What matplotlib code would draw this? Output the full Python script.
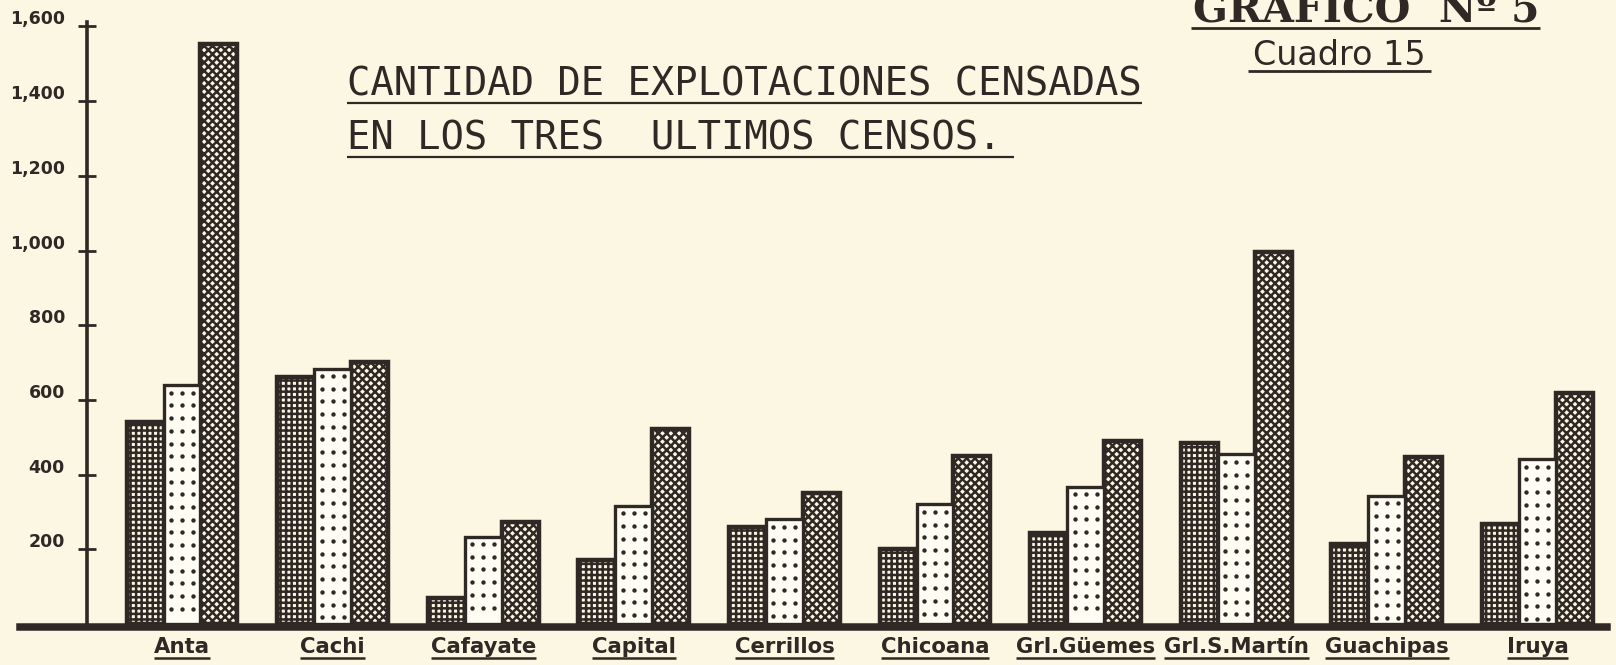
import matplotlib
matplotlib.use("Agg")
import matplotlib.pyplot as plt
from matplotlib import transforms
from matplotlib.lines import Line2D
import numpy as np

# --- data -----------------------------------------------------------------
departamentos = ["Anta", "Cachi", "Cafayate", "Capital", "Cerrillos", "Chicoana",
                 "Grl.Güemes", "Grl.S.Martín", "Guachipas", "Iruya"]
censo_1 = [542, 662, 69, 170, 259, 201, 244, 484, 213, 268]
censo_2 = [639, 684, 234, 316, 280, 320, 368, 454, 343, 441]
censo_3 = [1552, 702, 274, 521, 351, 450, 491, 995, 447, 618]
y_ticks = [200, 400, 600, 800, 1000, 1200, 1400, 1600]
y_tick_labels = ["200", "400", "600", "800", "1,000", "1,200", "1,400", "1,600"]

titulo_1 = "CANTIDAD DE EXPLOTACIONES CENSADAS"
titulo_2 = "EN LOS TRES  ULTIMOS CENSOS."
grafico = "GRAFICO  Nº 5"
cuadro = "Cuadro 15"

# --- style ----------------------------------------------------------------
PAPER = "#fbf7e3"
INK = "#2f2825"
W_PX, H_PX = 1616, 665

plt.rcParams["hatch.linewidth"] = 1.8
plt.rcParams["font.family"] = ["DejaVu Sans"]

fig = plt.figure(figsize=(W_PX / 100, H_PX / 100), dpi=100, facecolor=PAPER)
ax = fig.add_axes([0, 0, 1, 1])
ax.set_facecolor("none")
ax.set_xlim(-1.2085, 9.522)
ax.set_ylim(-109.8, 1670.7)

x = np.arange(len(departamentos))
w = 0.245

ax.bar(x - w, censo_1, w, facecolor=PAPER, edgecolor=INK, linewidth=3.2,
       hatch="+++", zorder=2)
ax.bar(x + w, censo_3, w, facecolor=PAPER, edgecolor=INK, linewidth=3.2,
       hatch="xxxx", zorder=2)
ax.bar(x, censo_2, w, facecolor="#fffdf3", edgecolor=INK, linewidth=2.4,
       zorder=2.1)

# dotted fill of the middle bars: three columns of dots, rows hanging from the top
for xi, v in zip(x, censo_2):
    rows = np.arange(v - 20, 12, -34)
    for dx in (-0.073, 0.0, 0.073):
        ax.scatter(np.full(rows.size, xi + dx), rows, s=10, color=INK,
                   linewidths=0, zorder=2.2)

# axes drawn like the hand-ruled originals
for s in ("top", "right"):
    ax.spines[s].set_visible(False)
ax.spines["left"].set_position(("data", -0.631))
ax.spines["left"].set_bounds(0, 1612)
ax.spines["left"].set_linewidth(2.6)
ax.spines["left"].set_color(INK)
ax.spines["bottom"].set_position(("data", -7))
ax.spines["bottom"].set_bounds(-1.076, 9.462)
ax.spines["bottom"].set_linewidth(5.4)
ax.spines["bottom"].set_color(INK)

ax.set_xticks([])
ax.set_yticks(y_ticks)
ax.tick_params(axis="y", direction="inout", length=13, width=2, color=INK,
               labelleft=False)

lab_tr = transforms.offset_copy(ax.transData, fig=fig, x=-22, y=7, units="dots")
for v, t in zip(y_ticks, y_tick_labels):
    ax.text(-0.631, v, t, transform=lab_tr, ha="right", va="center",
            fontsize=12.5, fontweight="bold", color=INK)

underlined = []

cat_tr = transforms.blended_transform_factory(ax.transData, fig.transFigure)
for xi, name in zip(x, departamentos):
    t = ax.text(xi, 1 - 653 / H_PX, name, transform=cat_tr, ha="center",
                va="baseline", fontsize=15.3, fontweight="bold",
                family="DejaVu Sans", color=INK)
    underlined.append((t, 5, 1.8, 0, 0))

t1 = fig.text(347 / W_PX, 1 - 95 / H_PX, titulo_1, ha="left", va="baseline",
              fontsize=28, family=["DejaVu Sans Mono", "DejaVu Sans"], color=INK)
underlined.append((t1, 8, 1.6, 0, 0))
t2 = fig.text(347 / W_PX, 1 - 150 / H_PX, titulo_2, ha="left", va="baseline",
              fontsize=28, family=["DejaVu Sans Mono", "DejaVu Sans"], color=INK)
underlined.append((t2, 7, 1.6, 0, 12))

tg = fig.text(1193 / W_PX, 1 - 21 / H_PX, grafico, ha="left", va="baseline",
              fontsize=29.5, fontweight="bold", family="DejaVu Serif", color=INK)
underlined.append((tg, 7, 2.0, 2, 0))
tc = fig.text(1253 / W_PX, 1 - 65 / H_PX, cuadro, ha="left", va="baseline",
              fontsize=24, family="DejaVu Sans", color=INK)
underlined.append((tc, 6, 2.0, 5, 5))

# underlines sized to each rendered label
fig.canvas.draw()
renderer = fig.canvas.get_renderer()
for t, gap, lw, ext_l, ext_r in underlined:
    bb = t.get_window_extent(renderer)
    _, base_y = t.get_transform().transform(t.get_position())
    y = base_y - gap
    fig.add_artist(Line2D([bb.x0 - ext_l, bb.x1 + ext_r], [y, y],
                          transform=transforms.IdentityTransform(),
                          color=INK, linewidth=lw, solid_capstyle="butt"))

fig.savefig("out.png", dpi=100, facecolor=PAPER)
